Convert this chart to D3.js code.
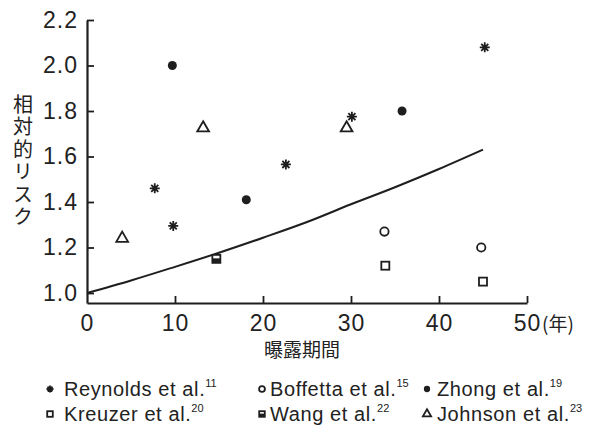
<!DOCTYPE html>
<html>
<meta charset="utf-8">
<head>
    <script src="https://d3js.org/d3.v7.min.js"></script>
    <style>
      body { margin: 0; background: #fff; }
      text { font-family: "Liberation Sans", Arial, sans-serif; fill: #222; }
    </style>
</head>
<body>
    <script>

        // 曝露期間 (年) vs 相対的リスク
        var reynolds = [[7.7, 1.46], [9.8, 1.295], [22.6, 1.565], [30.1, 1.775], [45.2, 2.08]];
        var boffetta = [[33.8, 1.27], [44.8, 1.20]];
        var zhong = [[9.7, 2.0], [18.1, 1.41], [35.8, 1.80]];
        var kreuzer = [[33.9, 1.12], [45.0, 1.05]];
        var wang = [[14.7, 1.15]];
        var johnson = [[4.0, 1.24], [13.2, 1.725], [29.5, 1.725]];

        // fitted curve
        var curve = [[0, 1.0], [5, 1.055], [10, 1.115], [15, 1.177], [20, 1.243], [25, 1.312],
                     [30, 1.39], [35, 1.465], [40, 1.545], [45, 1.63]];

        var xTicks = [0, 10, 20, 30, 40, 50];
        var yTicks = [1.0, 1.2, 1.4, 1.6, 1.8, 2.0, 2.2];

        var legendItems = [
          {name: "Reynolds et al.", ref: "11", sym: "star"},
          {name: "Boffetta et al.", ref: "15", sym: "oct"},
          {name: "Zhong et al.", ref: "19", sym: "dot"},
          {name: "Kreuzer et al.", ref: "20", sym: "square"},
          {name: "Wang et al.", ref: "22", sym: "fsquare"},
          {name: "Johnson et al.", ref: "23", sym: "tri"}
        ];

        var width = 590,
            height = 437;

        var svg = d3.select("body").append("svg")
            .attr("width", width)
            .attr("height", height);

        var x = d3.scaleLinear().domain([0, 50]).range([87, 527]);
        var y = d3.scaleLinear().domain([0.956, 2.2]).range([303, 20]);

        var ink = "#1e1e1e";

        // y axis
        var yAxis = svg.append("g")
            .attr("transform", "translate(" + x(0) + ",0)")
            .call(d3.axisLeft(y).tickValues(yTicks).tickFormat(d3.format(".1f"))
                .tickSizeInner(-7).tickSizeOuter(0).tickPadding(9));
        yAxis.select(".domain").attr("stroke", ink).attr("stroke-width", 2.2);
        yAxis.selectAll(".tick line").attr("stroke", ink).attr("stroke-width", 1.8);
        yAxis.selectAll(".tick text")
            .style("font-size", "23px").style("letter-spacing", "1px").attr("fill", ink);

        // x axis
        var xAxis = svg.append("g")
            .attr("transform", "translate(0," + y(0.956) + ")")
            .call(d3.axisBottom(x).tickValues(xTicks).tickFormat(d3.format("d"))
                .tickSizeInner(-7).tickSizeOuter(0).tickPadding(12));
        xAxis.select(".domain").attr("stroke", ink).attr("stroke-width", 2.2);
        xAxis.selectAll(".tick line").attr("stroke", ink).attr("stroke-width", 1.8)
            .style("display", d => d === 0 ? "none" : null);
        xAxis.selectAll(".tick text")
            .style("font-size", "23px").style("letter-spacing", "1px").attr("fill", ink);

        svg.append("text")
            .attr("x", x(50) + 15)
            .attr("y", 331)
            .style("font-size", "19px")
            .style("font-family", "'Noto Sans CJK JP', sans-serif")
            .text("(年)");

        svg.append("text")
            .attr("x", 302)
            .attr("y", 357)
            .attr("text-anchor", "middle")
            .style("font-size", "19px")
            .style("font-family", "'Noto Sans CJK JP', sans-serif")
            .text("曝露期間");

        // vertical y title
        svg.append("text")
            .attr("x", 23)
            .attr("y", 94)
            .style("writing-mode", "vertical-rl")
            .style("text-orientation", "upright")
            .style("font-size", "20px")
            .style("letter-spacing", "2.5px")
            .style("font-family", "'Noto Sans CJK JP', sans-serif")
            .text("相対的リスク");

        // fitted line
        svg.append("path")
            .datum(curve)
            .attr("fill", "none")
            .attr("stroke", ink)
            .attr("stroke-width", 2)
            .attr("d", d3.line().x(d => x(d[0])).y(d => y(d[1])).curve(d3.curveMonotoneX));

        function marker(sel, sym, s) {
          if (sym === "star") {
            var p = d3.path();
            for (var k = 0; k < 4; k++) {
              var a = k * Math.PI / 4;
              p.moveTo(-s * Math.cos(a), -s * Math.sin(a));
              p.lineTo(s * Math.cos(a), s * Math.sin(a));
            }
            sel.append("path").attr("d", p.toString())
              .attr("stroke", ink).attr("stroke-width", 1.8).attr("fill", "none");
            sel.append("circle").attr("r", s * 0.35).attr("fill", ink);
          } else if (sym === "dot") {
            sel.append("circle").attr("r", s * 0.9).attr("fill", ink);
          } else if (sym === "oct") {
            sel.append("path").attr("d", d3.symbol().type(d3.symbolCircle).size(s * s * 2.2)())
              .attr("fill", "none").attr("stroke", ink).attr("stroke-width", 1.8);
          } else if (sym === "square") {
            sel.append("rect").attr("x", -s * 0.8).attr("y", -s * 0.8)
              .attr("width", s * 1.6).attr("height", s * 1.6)
              .attr("fill", "none").attr("stroke", ink).attr("stroke-width", 1.8);
          } else if (sym === "fsquare") {
            sel.append("rect").attr("x", -s * 0.8).attr("y", -s * 0.8)
              .attr("width", s * 1.6).attr("height", s * 1.6)
              .attr("fill", "#fff").attr("stroke", ink).attr("stroke-width", 1.8);
            sel.append("rect").attr("x", -s * 0.8).attr("y", -s * 0.1)
              .attr("width", s * 1.6).attr("height", s * 0.9).attr("fill", ink);
          } else if (sym === "tri") {
            sel.append("path").attr("d", d3.symbol().type(d3.symbolTriangle).size(s * s * 2.4)())
              .attr("fill", "none").attr("stroke", ink).attr("stroke-width", 1.8);
          }
        }

        var series = [
          [reynolds, "star"], [boffetta, "oct"], [zhong, "dot"],
          [kreuzer, "square"], [wang, "fsquare"], [johnson, "tri"]
        ];

        series.forEach(function(sr) {
          svg.append("g").selectAll("g")
            .data(sr[0])
            .enter()
            .append("g")
            .attr("transform", d => "translate(" + x(d[0]) + "," + y(d[1]) + ")")
            .each(function() { marker(d3.select(this), sr[1], 5); });
        });

        // legend
        var colX = [[50, 64], [262, 270], [427, 437]];
        var rowY = [396, 421];

        legendItems.forEach(function(it, i) {
          var c = i % 3, r = Math.floor(i / 3);
          var g = svg.append("g");
          g.append("g")
            .attr("transform", "translate(" + colX[c][0] + "," + (rowY[r] - 7) + ")")
            .each(function() { marker(d3.select(this), it.sym, 3.5); });
          var t = g.append("text")
            .attr("x", colX[c][1])
            .attr("y", rowY[r])
            .style("font-size", "20px")
            .style("letter-spacing", "0.6px")
            .text(it.name);
          t.append("tspan")
            .attr("dy", -9)
            .style("font-size", "11px")
            .style("letter-spacing", "0px")
            .text(it.ref);
        });

    </script>
</body>
</html>
